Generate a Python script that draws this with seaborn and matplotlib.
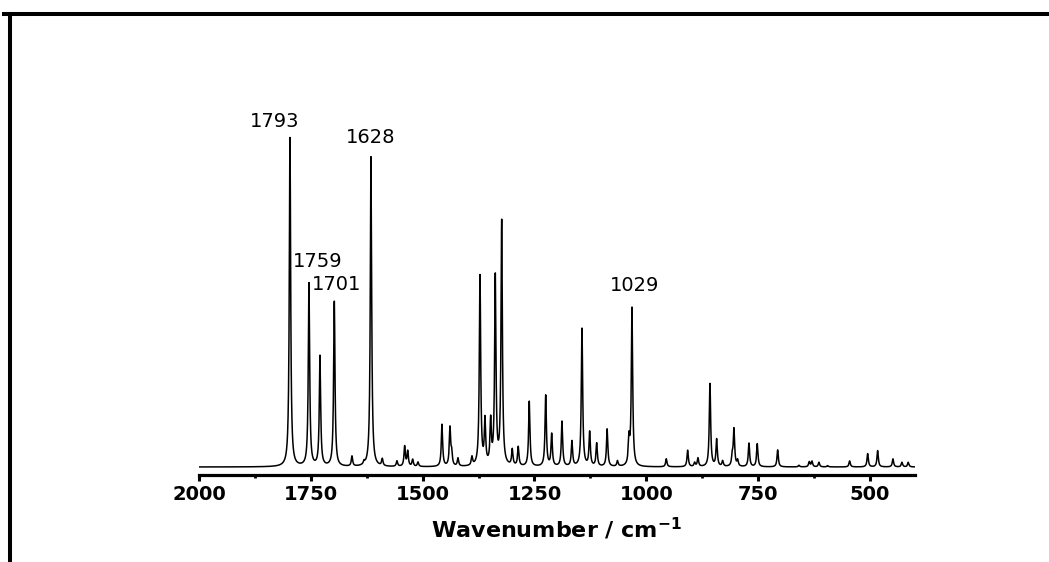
import numpy as np
import pandas as pd
import matplotlib
matplotlib.use("Agg")
import matplotlib.pyplot as plt
import seaborn as sns
from matplotlib.ticker import MultipleLocator
from matplotlib.lines import Line2D

# ---- data (peak centre in cm-1, peak height in arbitrary units) ----
peak_centers = [1796.6, 1754.1, 1729.5, 1697.5, 1658.0, 1631.0, 1615.5, 1590.2, 1557.4,
                1540.2, 1533.4, 1522.3, 1510.4, 1456.8, 1438.9, 1435.1, 1421.0, 1389.7,
                1371.8, 1360.6, 1347.9, 1337.6, 1323.3, 1299.6, 1286.2, 1261.6, 1224.9,
                1211.5, 1188.5, 1166.2, 1143.8, 1126.6, 1110.9, 1087.5, 1064.4, 1038.7,
                1032.0, 955.3, 907.5, 891.9, 884.5, 857.7, 842.7, 829.3, 807.8, 804.0,
                795.8, 770.5, 751.9, 706.3, 658.7, 635.6, 629.6, 614.0, 594.5, 545.4,
                505.1, 482.8, 448.6, 428.4, 414.3]
peak_heights = [329.0, 183.0, 110.0, 165.0, 10.0, 3.0, 310.0, 7.0, 5.5,
                20.0, 15.0, 7.0, 4.5, 42.0, 38.0, 12.0, 8.0, 8.5,
                190.0, 44.0, 43.0, 188.0, 244.0, 16.0, 19.0, 65.0, 71.0,
                32.0, 45.0, 25.0, 138.0, 34.0, 23.0, 37.5, 5.5, 25.0,
                158.0, 8.0, 16.5, 4.0, 8.5, 83.0, 27.0, 5.5, 10.0, 37.0,
                6.0, 23.5, 23.0, 17.0, 1.6, 5.0, 5.5, 4.6, 1.3, 6.0,
                13.3, 16.3, 8.0, 4.6, 4.6]
peak_hwhm = 1.8

label_texts = ["1793", "1759", "1701", "1628", "1029"]
label_x = [1830.1, 1735.1, 1691.5, 1617.0, 1027.1]
label_y = [339.7, 200.3, 177.0, 324.3, 176.3]

x_major = [2000, 1750, 1500, 1250, 1000, 750, 500]

# ---- spectrum (Lorentzian broadening of the stick spectrum) ----
wn = np.arange(400.0, 2000.0001, 0.1)
c = np.asarray(peak_centers)[:, None]
h = np.asarray(peak_heights)[:, None]
intensity = (h * peak_hwhm**2 / ((wn[None, :] - c) ** 2 + peak_hwhm**2)).sum(axis=0)
df = pd.DataFrame({"Wavenumber": wn, "Intensity": intensity})

sns.set_theme(style="white")
plt.rcParams["font.family"] = ["DejaVu Sans"]
plt.rcParams["mathtext.fontset"] = "dejavusans"

W, H = 1049, 562
fig = plt.figure(figsize=(W / 100, H / 100), dpi=100)
fig.patch.set_facecolor("white")
ax = fig.add_axes([199 / W, (H - 475) / H, 715.7 / W, 383 / H])

sns.lineplot(data=df, x="Wavenumber", y="Intensity", ax=ax, color="black",
             linewidth=1.1, estimator=None, errorbar=None, sort=False)

ax.set_xlim(2000, 400)
ax.set_ylim(-8, 375)
ax.set_xticks(x_major)
ax.xaxis.set_minor_locator(MultipleLocator(125))
ax.set_yticks([])
ax.set_ylabel("")
for s in ["top", "right", "left"]:
    ax.spines[s].set_visible(False)
ax.spines["bottom"].set_linewidth(2.3)
ax.spines["bottom"].set_color("black")
ax.tick_params(axis="x", which="major", direction="out", length=4.5, width=2.2,
               colors="black", labelsize=14, pad=3, bottom=True)
ax.tick_params(axis="x", which="minor", direction="out", length=2.2, width=2.0,
               colors="black", bottom=True)
for t in ax.get_xticklabels():
    t.set_fontweight("bold")
ax.set_xlabel(r"Wavenumber / cm$^{\mathbf{-1}}$", fontsize=16, fontweight="bold",
              labelpad=8, color="black")
ax.set_facecolor("white")

for txt, lx, ly in zip(label_texts, label_x, label_y):
    ax.text(lx, ly, txt, ha="center", va="baseline", fontsize=14, color="black")

# frame lines around the figure (top and left edges)
px = lambda x: x / W
py = lambda y: (H - y) / H
fig.add_artist(Line2D([px(4), px(W)], [py(14), py(14)], color="black", linewidth=2.9,
                      transform=fig.transFigure, solid_capstyle="projecting"))
fig.add_artist(Line2D([px(10), px(10)], [py(14), py(H)], color="black", linewidth=2.9,
                      transform=fig.transFigure, solid_capstyle="projecting"))

fig.savefig("out.png", dpi=100, facecolor="white")
